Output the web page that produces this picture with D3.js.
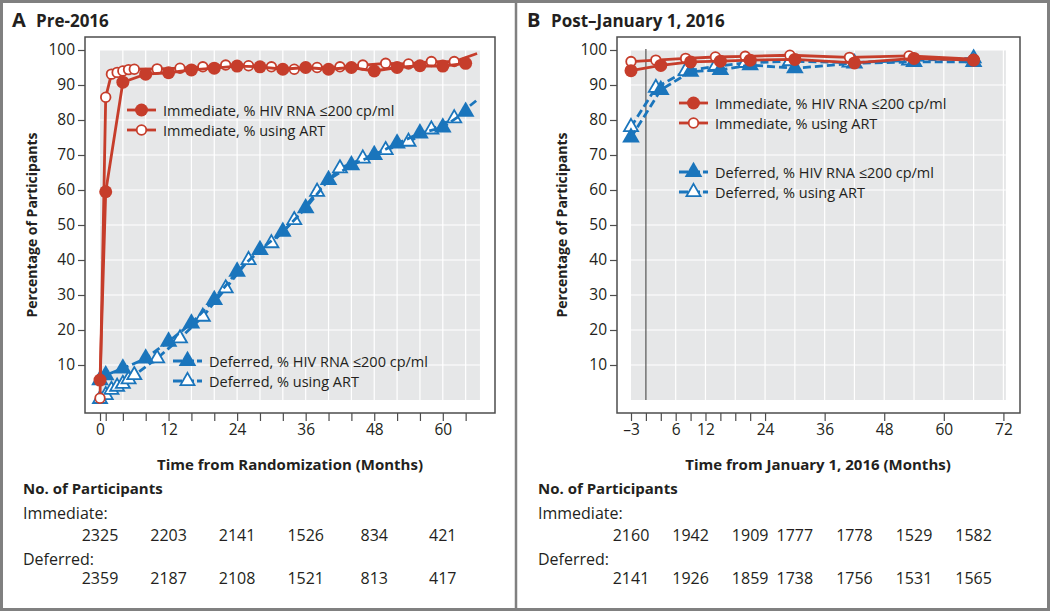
<!DOCTYPE html>
<html><head><meta charset="utf-8">
<script src="https://cdn.jsdelivr.net/npm/d3@7"></script>
<style>body{margin:0;background:#fff}svg{display:block}text{font-family:"Open Sans",sans-serif;fill:#231f20}</style>
</head><body>
<svg id="c" width="1050" height="611"></svg>
<script>
// ---------- Panel A (Pre-2016) data ----------
const aImmRnaMonths = [0,1,4,8,12,16,20,24,28,32,36,40,44,48,52,56,60,64];
const aImmRna       = [5.7,59.5,90.8,93.1,93.5,94.3,94.8,95.4,95.2,94.5,95,94.5,95,94,95,95.5,95.4,96.2];
const aImmArtMonths = [0,1,2,3,4,5,6,10,14,18,22,26,30,34,38,42,46,50,54,58,62,66];
const aImmArt       = [0.5,86.5,93.1,93.6,94.0,94.4,94.5,94.6,94.8,95.2,95.7,95.5,95.2,94.5,95,95.2,95.7,96.2,96,96.7,96.7,99];
const aImmArtMarker = [1,1,1,1,1,1,1,1,1,1,1,1,1,1,1,1,1,1,1,1,1,0];
const aDefRnaMonths = [0,1,4,8,12,16,20,24,28,32,36,40,44,48,52,56,60,64];
const aDefRna       = [5.7,7.1,9,11.9,16.7,21.9,28.6,36.7,42.9,48.1,54.8,62.9,67.1,70,73.3,76.2,77.9,82.4];
const aDefArtMonths = [0,1,2,3,4,5,6,10,14,18,22,26,30,34,38,42,46,50,54,58,62,66];
const aDefArt       = [0.3,1.4,2.9,3.8,4.6,5.9,7.1,11.9,17.6,23.8,31.9,40,44.8,51.4,59.5,66.2,69,71.4,73.8,77.3,80.5,85.7];
const aDefArtMarker = [1,1,1,1,1,1,1,1,1,1,1,1,1,1,1,1,1,1,1,1,1,0];
const aTickMonths   = [0,1,4,8,12,16,20,24,28,32,36,40,44,48,52,56,60,64];
const aTickLabels   = [0,12,24,36,48,60];
const aGridMonths   = [4,8,12,16,20,24,28,32,36,40,44,48,52,56,60,64];
const aNumMonths    = [0,12,24,36,48,60];
const aNumImm       = ["2325","2203","2141","1526","834","421"];
const aNumDef       = ["2359","2187","2108","1521","813","417"];

// ---------- Panel B (Post–January 1, 2016) data ----------
const bImmRnaMonths = [-3,3,9,15,21,30,42,54,66];
const bImmRna       = [94.1,95.6,96.6,96.8,97.1,97.3,96.3,97.6,97.1];
const bImmArtMonths = [-3,2,8,14,20,29,41,53,66];
const bImmArt       = [96.7,97.1,97.6,98.0,98.2,98.5,97.9,98.3,97.4];
const bDefRnaMonths = [-3,3,9,15,21,30,42,54,66];
const bDefRna       = [75,88.6,93.8,94.3,95.7,94.8,96.2,96.6,96.6];
const bDefArtMonths = [-3,2,8,14,20,29,41,53,66];
const bDefArt       = [78,89.2,94,95.3,96.3,96.8,96.4,97,97.6];
const bTickMonths   = [-3,0,3,6,9,12,15,18,21,24,36,48,60,72];
const bTickLabels   = [-3,6,12,24,36,48,60,72];
const bGridMonths   = [6,12,18,24,30,36,42,48,54,60,66,72];
const bNumMonths    = [-3,9,21,30,42,54,66];
const bNumImm       = ["2160","1942","1909","1777","1778","1529","1582"];
const bNumDef       = ["2141","1926","1859","1738","1756","1531","1565"];

const yTicks = [10,20,30,40,50,60,70,80,90,100];
const RED = "#c63d2b", BLUE = "#1a75bc";

const svg = d3.select("#c");
// outer frame & divider
svg.append("rect").attr("x",1.5).attr("y",1.5).attr("width",1047).attr("height",608)
  .attr("fill","none").attr("stroke","#808080").attr("stroke-width",3);
svg.append("line").attr("x1",516).attr("x2",516).attr("y1",0).attr("y2",611)
  .attr("stroke","#808080").attr("stroke-width",2.5);

function tri(size){ return d3.symbol().type(d3.symbolTriangle).size(size)(); }

function panel(cfg){
  const g = svg.append("g");
  const x = d3.scaleLinear().domain(cfg.xDomain).range(cfg.xRange);
  const y = d3.scaleLinear().domain([0,100]).range([400,50]);
  // title
  g.append("text").attr("x",cfg.titleX).attr("y",27).attr("font-size",20).attr("font-weight",700).text(cfg.letter);
  g.append("text").attr("x",cfg.titleX+24).attr("y",27).attr("font-size",17).attr("font-weight",700).text(cfg.title);
  // frame
  g.append("rect").attr("x",cfg.frame[0]).attr("y",37).attr("width",cfg.frame[1]-cfg.frame[0]).attr("height",376)
    .attr("fill","#fff").attr("stroke","#4d4d4d").attr("stroke-width",1.5);
  // gray area
  const gx0 = x(cfg.grayDomain[0]), gx1 = x(cfg.grayDomain[1]);
  g.append("rect").attr("x",gx0).attr("y",y(100)).attr("width",gx1-gx0).attr("height",y(0)-y(100)).attr("fill","#e6e7e8");
  // grid
  g.selectAll(null).data(yTicks).join("line")
    .attr("x1",gx0).attr("x2",gx1).attr("y1",d=>y(d)).attr("y2",d=>y(d))
    .attr("stroke","#fff").attr("stroke-width",1.2);
  g.selectAll(null).data(cfg.grid).join("line")
    .attr("x1",d=>x(d)).attr("x2",d=>x(d)).attr("y1",y(100)).attr("y2",y(0))
    .attr("stroke","#fff").attr("stroke-width",1.2);
  if(cfg.zeroLine){
    g.append("line").attr("x1",x(0)).attr("x2",x(0)).attr("y1",y(100)-1).attr("y2",y(0))
      .attr("stroke","#555").attr("stroke-width",1.2);
  }
  // y axis ticks
  const yAxis = d3.axisLeft(y).tickValues(yTicks).tickSize(7).tickPadding(3).tickFormat(d3.format("d"));
  const ya = g.append("g").attr("transform",`translate(${cfg.frame[0]},0)`).call(yAxis);
  ya.select(".domain").remove();
  ya.selectAll("line").attr("stroke","#4d4d4d").attr("stroke-width",1.2);
  ya.selectAll("text").attr("font-size",15.5).attr("fill","#231f20").attr("font-family","Open Sans");
  // x axis ticks
  const xAxis = d3.axisBottom(x).tickValues(cfg.ticks).tickSize(8).tickPadding(3)
    .tickFormat(d=>cfg.tickLabels.includes(d)? (d<0? "\u2013"+Math.abs(d): d) : "");
  const xa = g.append("g").attr("transform",`translate(0,413)`).call(xAxis);
  xa.select(".domain").remove();
  xa.selectAll("line").attr("stroke","#4d4d4d").attr("stroke-width",1.2);
  xa.selectAll("text").attr("font-size",15.5).attr("fill","#231f20").attr("font-family","Open Sans");
  // axis titles
  g.append("text").attr("transform",`translate(${cfg.yTitleX},225) rotate(-90)`).attr("text-anchor","middle")
    .attr("font-size",14).attr("font-weight",700).text("Percentage of Participants");
  g.append("text").attr("x",cfg.xTitleX).attr("y",470).attr("text-anchor","middle")
    .attr("font-size",15).attr("font-weight",700).text(cfg.xTitle);
  // numbers at risk
  g.append("text").attr("x",cfg.nX).attr("y",494).attr("font-size",15).attr("font-weight",700).text("No. of Participants");
  g.append("text").attr("x",cfg.nX).attr("y",519).attr("font-size",16).text("Immediate:");
  g.selectAll(null).data(cfg.numImm).join("text").attr("x",(d,i)=>x(cfg.numMonths[i])).attr("y",541)
    .attr("text-anchor","middle").attr("font-size",16).text(d=>d);
  g.append("text").attr("x",cfg.nX).attr("y",565).attr("font-size",16).text("Deferred:");
  g.selectAll(null).data(cfg.numDef).join("text").attr("x",(d,i)=>x(cfg.numMonths[i])).attr("y",584)
    .attr("text-anchor","middle").attr("font-size",16).text(d=>d);

  const line = d3.line().x(d=>x(d[0])).y(d=>y(d[1]));
  const zip = (m,v)=>m.map((t,i)=>[t,v[i]]);
  const series = [
    {m:cfg.defArtM, v:cfg.defArt, mk:cfg.defArtMk, color:BLUE, dash:"8,4", type:"otri"},
    {m:cfg.defRnaM, v:cfg.defRna, color:BLUE, dash:"8,4", type:"ftri"},
    {m:cfg.immArtM, v:cfg.immArt, mk:cfg.immArtMk, color:RED, dash:null, type:"ocirc"},
    {m:cfg.immRnaM, v:cfg.immRna, color:RED, dash:null, type:"fcirc"},
  ];
  series.forEach(s=>{
    const pts = zip(s.m,s.v);
    g.append("path").attr("d",line(pts)).attr("fill","none").attr("stroke",s.color)
      .attr("stroke-width",2.8).attr("stroke-dasharray",s.dash);
    const mp = pts.filter((p,i)=>!s.mk || s.mk[i]);
    drawMarkers(g, mp.map(p=>[x(p[0]),y(p[1])]), s.type, s.color);
  });

  // legend
  const L = cfg.legend;
  const legItems = [
    {y:L.y1, type:"fcirc", color:RED, dash:null, text:"Immediate, % HIV RNA \u2264200 cp/ml", lx:L.ix},
    {y:L.y2, type:"ocirc", color:RED, dash:null, text:"Immediate, % using ART", lx:L.ix},
    {y:L.y3, type:"ftri", color:BLUE, dash:"9,3", text:"Deferred, % HIV RNA \u2264200 cp/ml", lx:L.dx},
    {y:L.y4, type:"otri", color:BLUE, dash:"9,3", text:"Deferred, % using ART", lx:L.dx},
  ];
  legItems.forEach(it=>{
    g.append("line").attr("x1",it.lx).attr("x2",it.lx+29).attr("y1",it.y).attr("y2",it.y)
      .attr("stroke",it.color).attr("stroke-width",2.8).attr("stroke-dasharray",it.dash);
    drawMarkers(g, [[it.lx+14.5,it.y]], it.type, it.color);
    g.append("text").attr("x",it.lx+36).attr("y",it.y+5.5).attr("font-size",14.5).text(it.text);
  });
}

function drawMarkers(g, pts, type, color){
  if(type==="fcirc"){
    g.selectAll(null).data(pts).join("circle").attr("cx",d=>d[0]).attr("cy",d=>d[1]).attr("r",6.5).attr("fill",color);
  } else if(type==="ocirc"){
    g.selectAll(null).data(pts).join("circle").attr("cx",d=>d[0]).attr("cy",d=>d[1]).attr("r",4.8)
      .attr("fill","#fff").attr("stroke",color).attr("stroke-width",1.8);
  } else if(type==="ftri"){
    g.selectAll(null).data(pts).join("path").attr("d",tri(135)).attr("transform",d=>`translate(${d[0]},${d[1]})`).attr("fill",color);
  } else {
    g.selectAll(null).data(pts).join("path").attr("d",tri(85)).attr("transform",d=>`translate(${d[0]},${d[1]})`)
      .attr("fill","#fff").attr("stroke",color).attr("stroke-width",1.8);
  }
}

panel({
  letter:"A", title:"Pre-2016", titleX:12,
  xDomain:[0,60], xRange:[100,442.8], grayDomain:[0,66.5],
  frame:[85,495], ticks:aTickMonths, tickLabels:aTickLabels, grid:aGridMonths, zeroLine:false,
  yTitleX:37, xTitleX:290, xTitle:"Time from Randomization (Months)", nX:23,
  numMonths:aNumMonths, numImm:aNumImm, numDef:aNumDef,
  immRnaM:aImmRnaMonths, immRna:aImmRna, immArtM:aImmArtMonths, immArt:aImmArt, immArtMk:aImmArtMarker,
  defRnaM:aDefRnaMonths, defRna:aDefRna, defArtM:aDefArtMonths, defArt:aDefArt, defArtMk:aDefArtMarker,
  legend:{ix:127, dx:173, y1:110, y2:130, y3:361, y4:381}
});
panel({
  letter:"B", title:"Post\u2013January 1, 2016", titleX:527,
  xDomain:[-3,72], xRange:[631,1003.4], grayDomain:[-3,72.5],
  frame:[617,1020], ticks:bTickMonths, tickLabels:bTickLabels, grid:bGridMonths, zeroLine:true,
  yTitleX:567, xTitleX:818, xTitle:"Time from January 1, 2016 (Months)", nX:538,
  numMonths:bNumMonths, numImm:bNumImm, numDef:bNumDef,
  immRnaM:bImmRnaMonths, immRna:bImmRna, immArtM:bImmArtMonths, immArt:bImmArt, immArtMk:null,
  defRnaM:bDefRnaMonths, defRna:bDefRna, defArtM:bDefArtMonths, defArt:bDefArt, defArtMk:null,
  legend:{ix:679, dx:679, y1:103, y2:123, y3:172, y4:192}
});
</script>
</body></html>
